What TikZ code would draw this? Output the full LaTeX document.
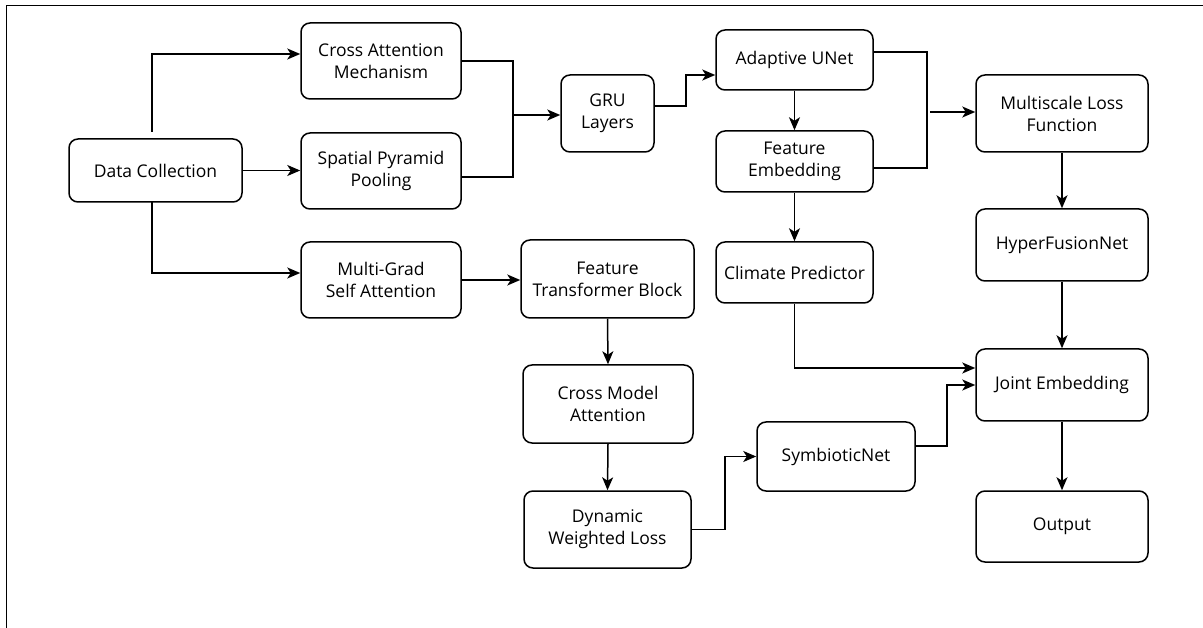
\documentclass[tikz,border=0pt]{standalone}
\usepackage{fontspec}
\setmainfont{Open Sans}
\usetikzlibrary{arrows.meta}

\begin{document}
\begin{tikzpicture}[x=1pt,y=-1pt,
  blk/.style={draw=black,line width=1.5pt,rounded corners=9pt,align=center,
    inner sep=0pt,font=\fontsize{17.5}{22}\selectfont},
  arr/.style={line width=1.5pt,-{Stealth[length=13pt,width=11pt,inset=3.5pt]}},
  lnk/.style={line width=1.5pt}]
  \useasboundingbox (0,0) rectangle (1203,628);
  % frame, cut off at right and bottom
  \draw[line width=1.5pt] (6.5,628) -- (6.5,5.5) -- (1203,5.5);

  % left column
  \node[blk,minimum width=173pt,minimum height=63pt] (dc) at (155.5,170.5) {Data Collection};
  \node[blk,minimum width=160pt,minimum height=76pt] (cam) at (381,61) {Cross Attention\\Mechanism};
  \node[blk,minimum width=160pt,minimum height=76pt] (spp) at (381,171) {Spatial Pyramid\\Pooling};
  \node[blk,minimum width=160pt,minimum height=76pt] (mgsa) at (381,280) {Multi-Grad\\Self Attention};

  % middle
  \node[blk,minimum width=93pt,minimum height=77pt] (gru) at (607.5,113.5) {GRU\\Layers};
  \node[blk,minimum width=173pt,minimum height=78pt] (ftb) at (607.5,279) {Feature\\Transformer Block};
  \node[blk,minimum width=170pt,minimum height=78pt] (cma) at (608,404) {Cross Model\\Attention};
  \node[blk,minimum width=167pt,minimum height=77pt] (dwl) at (607.5,529.5) {Dynamic\\Weighted Loss};

  % right middle
  \node[blk,minimum width=157pt,minimum height=60pt] (aun) at (794.5,60) {Adaptive UNet};
  \node[blk,minimum width=157pt,minimum height=61pt] (fe) at (794.5,161.5) {Feature\\Embedding};
  \node[blk,minimum width=157pt,minimum height=61pt] (cp) at (794.5,272.5) {Climate Predictor};
  \node[blk,minimum width=158pt,minimum height=69pt] (sym) at (836,456.5) {SymbioticNet};

  % right column
  \node[blk,minimum width=172pt,minimum height=77pt] (mlf) at (1062,113.5) {Multiscale Loss\\Function};
  \node[blk,minimum width=172pt,minimum height=72pt] (hfn) at (1062,245) {HyperFusionNet};
  \node[blk,minimum width=172pt,minimum height=72pt] (je) at (1062,385) {Joint Embedding};
  \node[blk,minimum width=172pt,minimum height=71pt] (out) at (1062,526.5) {Output};

  % branch points
  \coordinate (dcup) at (152,132);
  \coordinate (dcdn) at (152,202);
  \coordinate (mergeA) at (512,115);
  \coordinate (mergeB) at (930,112);

  % Data Collection fan-out
  \draw[arr] (dcup) |- ([yshift=7pt]cam.west);
  \draw[arr] (dc.east) -- (dc.east -| spp.west);
  \draw[arr] (dcdn) |- ([yshift=7pt]mgsa.west);

  % into GRU
  \draw[lnk] (cam.east) -- ++(51,0) |- ([yshift=-6pt]spp.east);
  \draw[arr] (mergeA) -- (mergeA -| gru.west);
  \draw[arr] ([yshift=7.5pt]gru.east) -- ++(31,0) |- ([yshift=-15pt]aun.west);

  % UNet branch
  \draw[arr] (aun.south) -- (fe.north);
  \draw[arr] (fe.south) -- (cp.north);
  \draw[lnk] ([yshift=8pt]aun.east) -- ++(53,0) |- ([yshift=-6.5pt]fe.east);
  \draw[arr] (mergeB) -- (mergeB -| mlf.west);
  \draw[arr] (mlf.south) -- (hfn.north);
  \draw[arr] (hfn.south) -- (je.north);
  \draw[arr] (je.south) -- (out.north);
  \draw[arr] (cp.south) |- ([yshift=17pt]je.west);

  % transformer branch
  \draw[arr] (mgsa.east) -- (mgsa.east -| ftb.west);
  \draw[arr] (ftb.south) -- (cma.north);
  \draw[arr] (cma.south) -- (dwl.north);
  \draw[arr] (dwl.east) -- ++(33,0) |- (sym.west);
  \draw[arr] ([yshift=10.5pt]sym.east) -- ++(31,0) |- (je.west);
\end{tikzpicture}
\end{document}
